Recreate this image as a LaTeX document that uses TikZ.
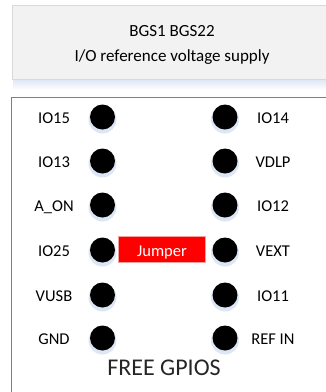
\documentclass[tikz,border=0pt]{standalone}
\usepackage{fontspec}
\setmainfont{Carlito}
\definecolor{topfill}{HTML}{F2F2F2}
\definecolor{topline}{HTML}{D9D9D9}
\definecolor{boxline}{HTML}{7F7F7F}
\definecolor{glow}{HTML}{DCE6F4}
\definecolor{jumpline}{HTML}{F4A0A0}
\tikzset{
  pin/.style={circle,fill=black,draw=none,minimum size=25pt,inner sep=0pt},
  pinglow/.style={circle,fill=glow,draw=none,minimum size=28pt,inner sep=0pt},
  lbl/.style={anchor=base,inner sep=0pt,font=\fontsize{16.5}{19}\selectfont},
  title/.style={anchor=base,inner sep=0pt,font=\fontsize{17}{20}\selectfont},
}
\begin{document}
\begin{tikzpicture}[x=1pt,y=-1pt]
\useasboundingbox (0,0) rectangle (326,392);
% top box with shadow
\shade[top color=glow,bottom color=white] (13,79) rectangle (330,90);
\draw[topline,fill=topfill,line width=0.8pt] (12,5) rectangle (332,79);
\node[title] (t1) at (172,36.7) {BGS1 BGS22};
\node[title] (t2) at (172,61.7) {I/O reference voltage supply};
% main box
\draw[boxline,line width=1pt] (11,400) -- (11,97.5) -- (332,97.5);
% pins
\foreach \n/\y in {1/117,2/161,3/205,4/250,5/295,6/338}{
  \node[pinglow] at (102.5,\y+2.5) {};
  \node[pinglow] at (225,\y+2.5) {};
  \node[pin] (L\n) at (102.5,\y) {};
  \node[pin] (R\n) at (225,\y) {};
}
\foreach \n/\t in {1/IO15,2/IO13,3/A\_ON,4/IO25,5/VUSB,6/GND}{
  \path (L\n) ++(-48.5,6) node[lbl] (lt\n) {\t};
}
\foreach \n/\t in {1/IO14,2/VDLP,3/IO12,4/VEXT,5/IO11,6/REF IN}{
  \path (R\n) ++(48,6) node[lbl] (rt\n) {\t};
}
% jumper
\draw[jumpline,fill=red,line width=0.6pt] (118.3,236.7) rectangle (205.7,262.7);
\node[lbl,text=white] (jmp) at (162,256) {Jumper};
% footer
\node[anchor=base,inner sep=0pt,font=\fontsize{24}{28}\selectfont,text=black!85] (free) at (164,375) {FREE GPIOS};
\end{tikzpicture}
\end{document}
